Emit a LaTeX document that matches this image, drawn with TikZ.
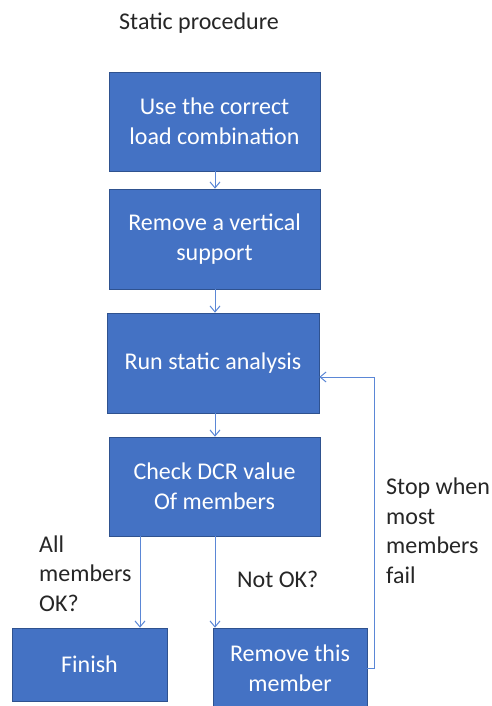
\documentclass[tikz,border=0pt]{standalone}
\usepackage{fontspec}
\setmainfont{Carlito}
\usetikzlibrary{arrows.meta}
\definecolor{boxfill}{HTML}{4472C4}
\definecolor{boxline}{HTML}{2F528F}
\definecolor{linkcol}{HTML}{5B87D6}
\definecolor{labelcol}{HTML}{262626}
\tikzset{
  stepbox/.style={rectangle, fill=boxfill, draw=boxline, line width=0.6pt,
    text=white, align=center, font=\fontsize{24}{30}\selectfont, inner sep=0pt},
  link/.style={draw=linkcol, line width=1pt,
    -{Straight Barb[length=6pt,width=10pt,line width=1pt]}},
  note/.style={text=labelcol, align=left, font=\fontsize{24}{29.5}\selectfont, inner sep=0pt}
}
\begin{document}
\begin{tikzpicture}[x=1pt,y=-1pt]
  \useasboundingbox (0,0) rectangle (492,706);
  \fill[white] (0,0) rectangle (492,706);

  % title
  \node[note, anchor=base] (title) at (199,30) {Static procedure};

  % procedure steps
  \node[stepbox, minimum width=211pt, minimum height=99pt] (load) at (214.5,121.5)
    {Use the correct\\load combination};
  \node[stepbox, minimum width=211pt, minimum height=100pt] (supp) at (214.5,239)
    {Remove a vertical\\support};
  \node[stepbox, minimum width=212pt, minimum height=100pt] (run) at (213,363)
    {Run static analysis};
  \node[stepbox, minimum width=211pt, minimum height=99pt] (check) at (214.5,486.5)
    {Check DCR value\\Of members};
  \node[stepbox, minimum width=155pt, minimum height=73pt] (fin) at (89.5,664.5)
    {Finish};
  \node[stepbox, minimum width=154pt, minimum height=80pt] (rem) at (290,668)
    {Remove this\\member};

  % branch positions
  \coordinate (okx) at (140,0);
  \coordinate (nokx) at (215,0);
  \coordinate (loop) at (374,377);

  % links
  \draw[link] (load.south -| nokx) -- (supp.north -| nokx);
  \draw[link] (supp.south -| nokx) -- (run.north -| nokx);
  \draw[link] (run.south -| nokx) -- (check.north -| nokx);
  \draw[link] (check.south -| okx) -- (fin.north -| okx);
  \draw[link] (check.south -| nokx) -- (rem.north -| nokx);
  \draw[link] (rem.east) -- (loop |- rem.east) -- (loop) -- (run.east |- loop);

  % labels (base anchor sits on the last line)
  \node[note, anchor=base west] (allok) at (39,611) {All\\members\\OK?};
  \node[note, anchor=base west] (notok) at (237,587) {Not OK?};
  \node[note, anchor=base west] (stop) at (386,583) {Stop when\\most\\members\\fail};
\end{tikzpicture}
\end{document}
